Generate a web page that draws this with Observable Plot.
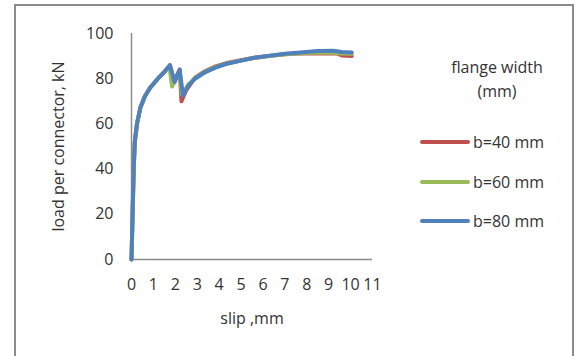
<!DOCTYPE html>
<html>
<head>
<meta charset="utf-8">
<script src="https://cdn.jsdelivr.net/npm/d3@7"></script>
<script src="https://cdn.jsdelivr.net/npm/@observablehq/plot@0.6"></script>
<style>
  html, body { margin: 0; padding: 0; background: #fff; overflow: hidden; }
  #wrap { position: relative; width: 582px; height: 356px; font-family: "Open Sans", sans-serif; color: #333; }
  #frame { position: absolute; left: 14px; top: 4px; width: 560px; height: 400px; border: 2px solid #8c8c8c; box-sizing: border-box; }
  #chart { position: absolute; left: 0; top: 0; }
  #legend { position: absolute; left: 0; top: 0; width: 582px; height: 356px; pointer-events: none; }
  .lt { position: absolute; width: 160px; left: 417px; text-align: center; font-size: 16px; line-height: 20px; }
  .li { position: absolute; left: 420px; height: 20px; display: flex; align-items: center; font-size: 16px; }
  .li span.sw { display: inline-block; width: 50px; height: 4px; border-radius: 2px; margin-right: 3px; }
</style>
</head>
<body>
<div id="wrap">
  <div id="frame"></div>
  <div id="chart"></div>
  <div id="legend"></div>
</div>
<script>
// Series labels and colours
const seriesNames = ["b=40 mm", "b=60 mm", "b=80 mm"];
const seriesColors = ["#C0504D", "#9BBB59", "#4F81BD"];
const legendTitle = ["flange width", "(mm)"];

// slip (mm) and load (kN)
const slip40 = [0, 0.05, 0.1, 0.15, 0.25, 0.4, 0.6, 0.85, 1.2, 1.5, 1.75, 1.95, 2.2, 2.28, 2.5, 2.9, 3.3, 3.8, 4.3, 5, 5.6, 6.3, 7, 7.7, 8.3, 8.9, 9.4, 9.6, 10.05];
const load40 = [0, 20, 40, 52, 60, 67, 72, 76, 80, 83, 86, 79, 84, 70, 75, 80.5, 83, 85.3, 86.8, 88.2, 89.3, 90.1, 90.8, 91.2, 91.2, 91.1, 91.1, 90.3, 90];

const slip60 = [0, 0.05, 0.1, 0.15, 0.25, 0.4, 0.6, 0.85, 1.2, 1.5, 1.73, 1.85, 2.2, 2.3, 2.6, 2.9, 3.3, 3.8, 4.3, 5, 5.6, 6.3, 7, 7.7, 8.5, 9.2, 9.6, 10.05];
const load60 = [0, 20, 40, 52, 60, 67, 72, 76, 80, 83, 85.5, 76.5, 83.5, 73, 77.5, 80.2, 82.7, 85, 86.6, 88, 89.2, 90, 90.8, 91.3, 91.6, 91.5, 91.2, 91];

const slip80 = [0, 0.05, 0.1, 0.15, 0.25, 0.4, 0.6, 0.85, 1.2, 1.5, 1.75, 1.97, 2.2, 2.35, 2.6, 2.9, 3.3, 3.8, 4.3, 5, 5.6, 6.3, 7, 7.7, 8.5, 9.2, 9.6, 10.05];
const load80 = [0, 20, 40, 52, 60, 67, 72, 76, 80, 83, 86, 78.5, 84, 72.5, 77, 80, 82.5, 84.8, 86.5, 88, 89.3, 90.2, 91, 91.6, 92.3, 92.4, 91.8, 91.6];

const xTicks = [0, 1, 2, 3, 4, 5, 6, 7, 8, 9, 10, 11];
const yTicks = [0, 20, 40, 60, 80, 100];

const data = [];
[[slip40, load40], [slip60, load60], [slip80, load80]].forEach(([xs, ys], i) => {
  xs.forEach((x, j) => data.push({ series: seriesNames[i], slip: x, load: ys[j] }));
});

const chart = Plot.plot({
  width: 582,
  height: 356,
  marginLeft: 131,
  marginRight: 210,
  marginTop: 33,
  marginBottom: 97,
  style: { fontFamily: "Open Sans, sans-serif", color: "#333", background: "transparent", overflow: "visible" },
  x: { domain: [0, 11] },
  y: { domain: [0, 100] },
  color: { domain: seriesNames, range: seriesColors },
  marks: [
    Plot.axisY({ ticks: yTicks, tickSize: 0, tickPadding: 18, fontSize: 16, label: "load per connector, kN", labelAnchor: "center", labelOffset: 79, labelArrow: "none" }),
    Plot.axisX({ ticks: xTicks, tickSize: 0, tickPadding: 19, fontSize: 16, label: "slip ,mm", labelAnchor: "center", labelOffset: 64, labelArrow: "none" }),
    Plot.ruleY([0], { stroke: "#8c8c8c", strokeWidth: 1.5 }),
    Plot.ruleX([0], { stroke: "#8c8c8c", strokeWidth: 1.5 }),
    Plot.line(data, { x: "slip", y: "load", z: "series", stroke: "series", strokeWidth: 4, strokeLinejoin: "round", strokeLinecap: "round" })
  ]
});
d3.select(chart).selectAll("text").filter(function () {
  return this.textContent === "slip ,mm" || this.textContent === "load per connector, kN";
}).attr("font-size", 16).style("font-size", "16px");
document.getElementById("chart").appendChild(chart);

// legend
const leg = document.getElementById("legend");
const titleY = [57, 81];
legendTitle.forEach((t, i) => {
  const d = document.createElement("div");
  d.className = "lt"; d.style.top = titleY[i] + "px"; d.textContent = t;
  leg.appendChild(d);
});
const itemY = [132, 172, 211];
seriesNames.forEach((s, i) => {
  const d = document.createElement("div");
  d.className = "li"; d.style.top = itemY[i] + "px";
  const sw = document.createElement("span"); sw.className = "sw"; sw.style.background = seriesColors[i];
  d.appendChild(sw);
  d.appendChild(document.createTextNode(s));
  leg.appendChild(d);
});
</script>
</body>
</html>
